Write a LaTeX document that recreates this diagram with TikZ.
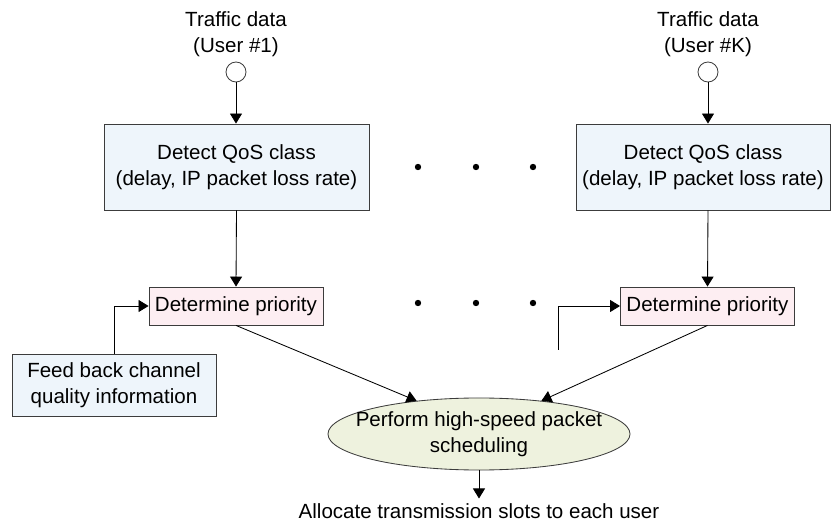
\documentclass[tikz,border=0pt]{standalone}
\usepackage{fontspec}
\setmainfont{Liberation Sans}
\usepackage{xcolor}
\usepackage{tikz}
\definecolor{qosblue}{RGB}{238,245,251}
\definecolor{prioritypink}{RGB}{253,238,242}
\definecolor{schedgreen}{RGB}{238,242,222}
\definecolor{edgegray}{RGB}{60,60,60}
\usetikzlibrary{shapes.geometric,arrows.meta,calc}

\newcommand{\diagfont}{\fontsize{14.6pt}{18.5pt}\selectfont}
\tikzset{
    every node/.style={font=\diagfont},
    qosbox/.style={draw=edgegray, fill=qosblue, line width=0.6pt, align=center, minimum height=2.15cm, inner xsep=1pt},
    prio/.style={draw=edgegray, fill=prioritypink, line width=0.6pt, minimum width=4.35cm, minimum height=0.95cm, inner xsep=1pt},
    feedbox/.style={draw=edgegray, fill=qosblue, line width=0.6pt, align=center, minimum width=5.1cm, minimum height=1.55cm},
    sched/.style={ellipse, draw=edgegray, fill=schedgreen, line width=0.6pt, align=center, minimum width=7.55cm, minimum height=1.8cm, inner xsep=-0.7cm, inner ysep=-0.3cm},
    port/.style={circle, draw=edgegray, fill=white, line width=0.6pt, minimum size=0.5cm, inner sep=0pt},
    flow/.style={-{Triangle[length=0.25cm,width=0.3cm]}, line width=0.6pt, draw=black},
}

\begin{document}
\begin{tikzpicture}[x=0.025cm, y=-0.025cm]
    \useasboundingbox (0,0) rectangle (831,525);

    % Inputs - one per user
    \node[align=center] (label1) at (236,34) {Traffic data\\(User \#1)};
    \node[port] (in1) at (236,72) {};
    \node[align=center] (labelK) at (708,34) {Traffic data\\(User \#K)};
    \node[port] (inK) at (708,72) {};

    % QoS detection
    \node[qosbox, minimum width=6.625cm] (qos1) at (236.5,167) {Detect QoS class\\(delay, IP packet loss rate)};
    \node[qosbox, minimum width=6.35cm] (qosK) at (703,167) {Detect QoS class\\(delay, IP packet loss rate)};

    % Priority
    \node[prio] (prio1) at (236,306) {Determine priority};
    \node[prio] (prioK) at (707.5,306) {Determine priority};

    % Channel quality feedback
    \node[feedbox] (feed) at (114,385) {Feed back channel\\quality information};
    \coordinate (feedK) at (558,350);

    % Scheduler and output
    \node[sched] (sched) at (479,434) {Perform high-speed packet\\scheduling};
    \node (alloc) at (479,511) {Allocate transmission slots to each user};

    % Dots between users
    \foreach \y in {167,303} {
        \foreach \x in {418,476,533} {
            \fill (\x,\y) circle (0.08cm);
        }
    }

    % Connectors
    \draw[flow] (in1) -- (in1 |- qos1.north);
    \draw[flow] (inK) -- (inK |- qosK.north);
    \draw[flow] (qos1.south) -- (prio1.north);
    \draw[flow] (inK |- qosK.south) -- (prioK.north);
    \draw[flow] (feed.north) |- (prio1.west);
    \draw[flow] (feedK) |- (prioK.west);
    \draw[flow] (prio1.south) -- (sched.152);
    \draw[flow] (prioK.south) -- (sched.28);
    \draw[flow] (sched.south) -- (alloc.north);
\end{tikzpicture}
\end{document}
